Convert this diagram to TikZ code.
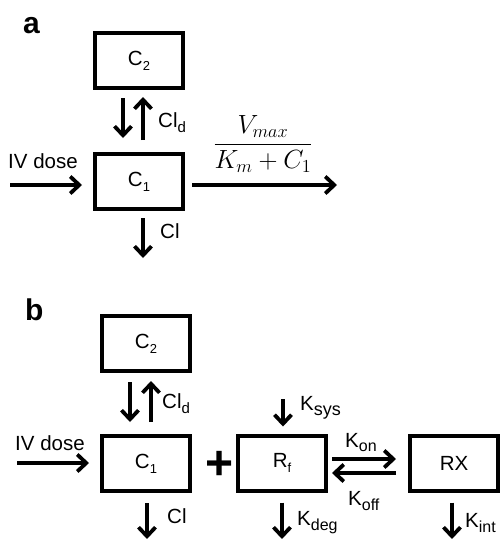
\documentclass[tikz,border=0pt]{standalone}
\usepackage{fontspec}
\setmainfont{Liberation Sans}
\usetikzlibrary{arrows.meta}
\newcommand\myfs[1]{\fontsize{#1}{#1}\selectfont}
\newcommand\lsub[3]{\raisebox{-#1pt}{\myfs{#2}#3}}
\begin{document}
\begin{tikzpicture}[x=1pt,y=-1pt,
  box/.style={draw,line width=4pt,minimum width=88pt,minimum height=55pt,inner sep=0pt,font=\myfs{20.5}},
  arr/.style={line width=3.8pt,-{Straight Barb[length=9pt,width=17pt]}},
  lbl/.style={inner sep=0pt,anchor=base west,font=\myfs{20.5}},
  panel/.style={inner sep=0pt,anchor=base west,font=\myfs{30}\bfseries}]
\useasboundingbox (0,0) rectangle (499,539);
% ---------- panel a ----------
\node[panel] (la) at (23,33) {a};
\node[box] (C2a) at (139,60.5) {C\lsub{5}{13}{2}};
\node[box] (C1a) at (139,181.5) {C\lsub{5}{13}{1}};
\draw[arr,shorten <=8pt,shorten >=14pt] ([xshift=-16pt]C2a.south) -- ([xshift=-16pt]C1a.north);
\draw[arr,shorten <=12pt,shorten >=7pt] ([xshift=4pt]C1a.north) -- ([xshift=4pt]C2a.south);
\node[lbl] (clda) at (158,127) {Cl\lsub{5}{15}{d}};
\node[lbl] (iva) at (8,168) {IV dose};
\coordinate (iva0) at (10,185);
\draw[arr,shorten >=11pt] (iva0) -- (C1a.west |- iva0);
\coordinate (outa) at (337,185);
\draw[arr,shorten <=7pt] (C1a.east |- outa) -- (outa);
\node[inner sep=0pt,scale=1.27] (frac) at (263,144) {\myfs{22}$\displaystyle\frac{V_{max}}{K_m + C_1}$};
\coordinate (cla0) at (143,258);
\draw[arr,shorten <=7pt] (C1a.south -| cla0) -- (cla0);
\node[lbl] (cla) at (160,238) {Cl};
% ---------- panel b ----------
\node[panel] (lb) at (25,320) {b};
\node[box] (C2b) at (146,343.5) {C\lsub{5}{13}{2}};
\node[box] (C1b) at (146,463.5) {C\lsub{5}{13}{1}};
\node[box] (Rf) at (282,463) {R\lsub{5}{13}{f}};
\node[box] (RX) at (454,463) {RX};
\draw[arr,shorten <=9pt,shorten >=12pt] ([xshift=-16pt]C2b.south) -- ([xshift=-16pt]C1b.north);
\draw[arr,shorten <=12pt,shorten >=8pt] ([xshift=5pt]C1b.north) -- ([xshift=5pt]C2b.south);
\node[lbl] (cldb) at (162,408) {Cl\lsub{5}{15}{d}};
\node[lbl] (ivb) at (15,450) {IV dose};
\coordinate (ivb0) at (17,463);
\draw[arr,shorten >=11pt] (ivb0) -- (C1b.west |- ivb0);
\node[inner sep=0pt,font=\myfs{48}\bfseries] (plus) at (219.5,465) {+};
\coordinate (clb0) at (147,539);
\draw[arr,shorten <=10pt] (C1b.south -| clb0) -- (clb0);
\node[lbl] (clb) at (167,523) {Cl};
\coordinate (ksys0) at (283,399);
\draw[arr,shorten >=7pt] (ksys0) -- (Rf.north -| ksys0);
\node[lbl] (ksys) at (300,410) {K\lsub{5}{18}{sys}};
\draw[arr,shorten <=4pt,shorten >=12pt] ([yshift=4pt]Rf.east) -- ([yshift=4pt]RX.west);
\draw[arr,shorten <=12pt,shorten >=4pt] ([yshift=-10pt]RX.west) -- ([yshift=-10pt]Rf.east);
\node[lbl] (kon) at (345,447) {K\lsub{4}{16}{on}};
\node[lbl] (koff) at (348,505) {K\lsub{5}{16}{off}};
\coordinate (kdeg0) at (282,539);
\draw[arr,shorten <=10pt] (Rf.south -| kdeg0) -- (kdeg0);
\node[lbl] (kdeg) at (297,525) {K\lsub{5}{16}{deg}};
\coordinate (kint0) at (452,539);
\draw[arr,shorten <=10pt] (RX.south -| kint0) -- (kint0);
\node[lbl] (kint) at (465,527) {K\lsub{5}{16}{int}};
\end{tikzpicture}
\end{document}
